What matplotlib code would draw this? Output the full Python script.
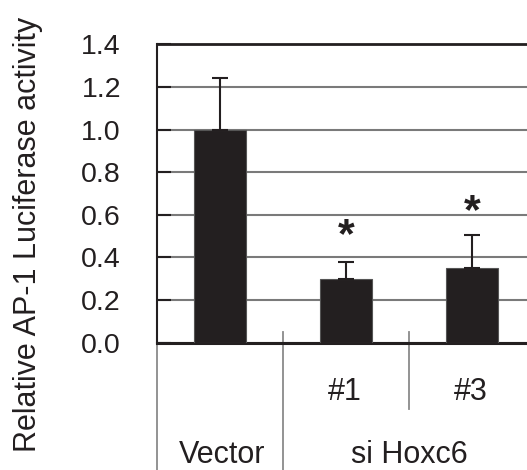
import matplotlib
matplotlib.use("Agg")
import matplotlib.pyplot as plt
import matplotlib.transforms as mtransforms

plt.rcParams['font.family'] = ['Liberation Sans', 'DejaVu Sans']

# Data
groups = ["Vector", "#1", "#3"]
values = [1.00, 0.30, 0.35]
err_upper = [0.24, 0.08, 0.155]
significant = [False, True, True]
star_heights = [None, 0.50, 0.615]
yticks = [0.0, 0.2, 0.4, 0.6, 0.8, 1.0, 1.2, 1.4]
ytick_labels = ["0.0", "0.2", "0.4", "0.6", "0.8", "1.0", "1.2", "1.4"]
sub_labels = ["", "#1", "#3"]
group_labels = ["Vector", "si Hoxc6"]
group_label_x = [0.516, 2.0]

DPI = 100
fig = plt.figure(figsize=(5.27, 4.70), dpi=DPI)
ax = fig.add_axes([157/527, (470-342.7)/470, 1 - 157/527, (342.7-44.3)/470])

x = [0.5, 1.5, 2.5]
bar_color = "#231f20"
ax.bar(x, values, width=0.41, color=bar_color, edgecolor="#555555", linewidth=0.8, zorder=3)
ax.errorbar(x, values, yerr=[[0]*3, err_upper], fmt='none', ecolor=bar_color,
            elinewidth=1.5, capsize=6, capthick=1.5, zorder=4)

for xi, sig, h in zip(x, significant, star_heights):
    if sig:
        ax.text(xi, h, "*", ha='center', va='center', fontsize=31, fontweight='bold',
                color=bar_color, zorder=5)

ax.set_xlim(0, 370/126)
ax.set_ylim(0, 1.4)
ax.set_yticks(yticks)
ax.set_yticklabels(ytick_labels, fontsize=20.5, color="#231f20")
ax.tick_params(axis='y', direction='in', length=10, width=1.5, color="#231f20", pad=26)
ax.set_xticks([])

ax.yaxis.grid(True, color="#7a7a7a", linewidth=1.5, zorder=0)
ax.set_axisbelow(True)

ax.spines['right'].set_visible(False)
ax.spines['top'].set_linewidth(2)
ax.spines['top'].set_color("#231f20")
ax.spines['bottom'].set_linewidth(2.2)
ax.spines['bottom'].set_color("#231f20")
ax.spines['left'].set_linewidth(1.5)
ax.spines['left'].set_color("#231f20")

# Category divider lines below the axis
trans = mtransforms.blended_transform_factory(ax.transData, fig.transFigure)
line_kw = dict(color="#8a8a8a", linewidth=1.3, clip_on=False, transform=trans)
ax.plot([0, 0], [0, (470-342.7)/470], **line_kw)
ax.plot([1.0, 1.0], [0, (470-332)/470], **line_kw)
ax.plot([2.0, 2.0], [(470-409)/470, (470-332)/470], **line_kw)

for xi, lab in zip(x, sub_labels):
    if lab:
        ax.text(xi - 0.01, (470-400.5)/470, lab, transform=trans, ha='center', va='baseline',
                fontsize=22, color="#231f20")
for xi, lab in zip(group_label_x, group_labels):
    ax.text(xi, (470-463)/470, lab, transform=trans, ha='center', va='baseline',
            fontsize=22, color="#231f20")

ax.set_ylabel("Relative AP-1 Luciferase activity", fontsize=22, color="#231f20")
ax.yaxis.set_label_coords(43.5/527, (470-234)/470, transform=fig.transFigure)

fig.savefig("out.png", dpi=DPI)
